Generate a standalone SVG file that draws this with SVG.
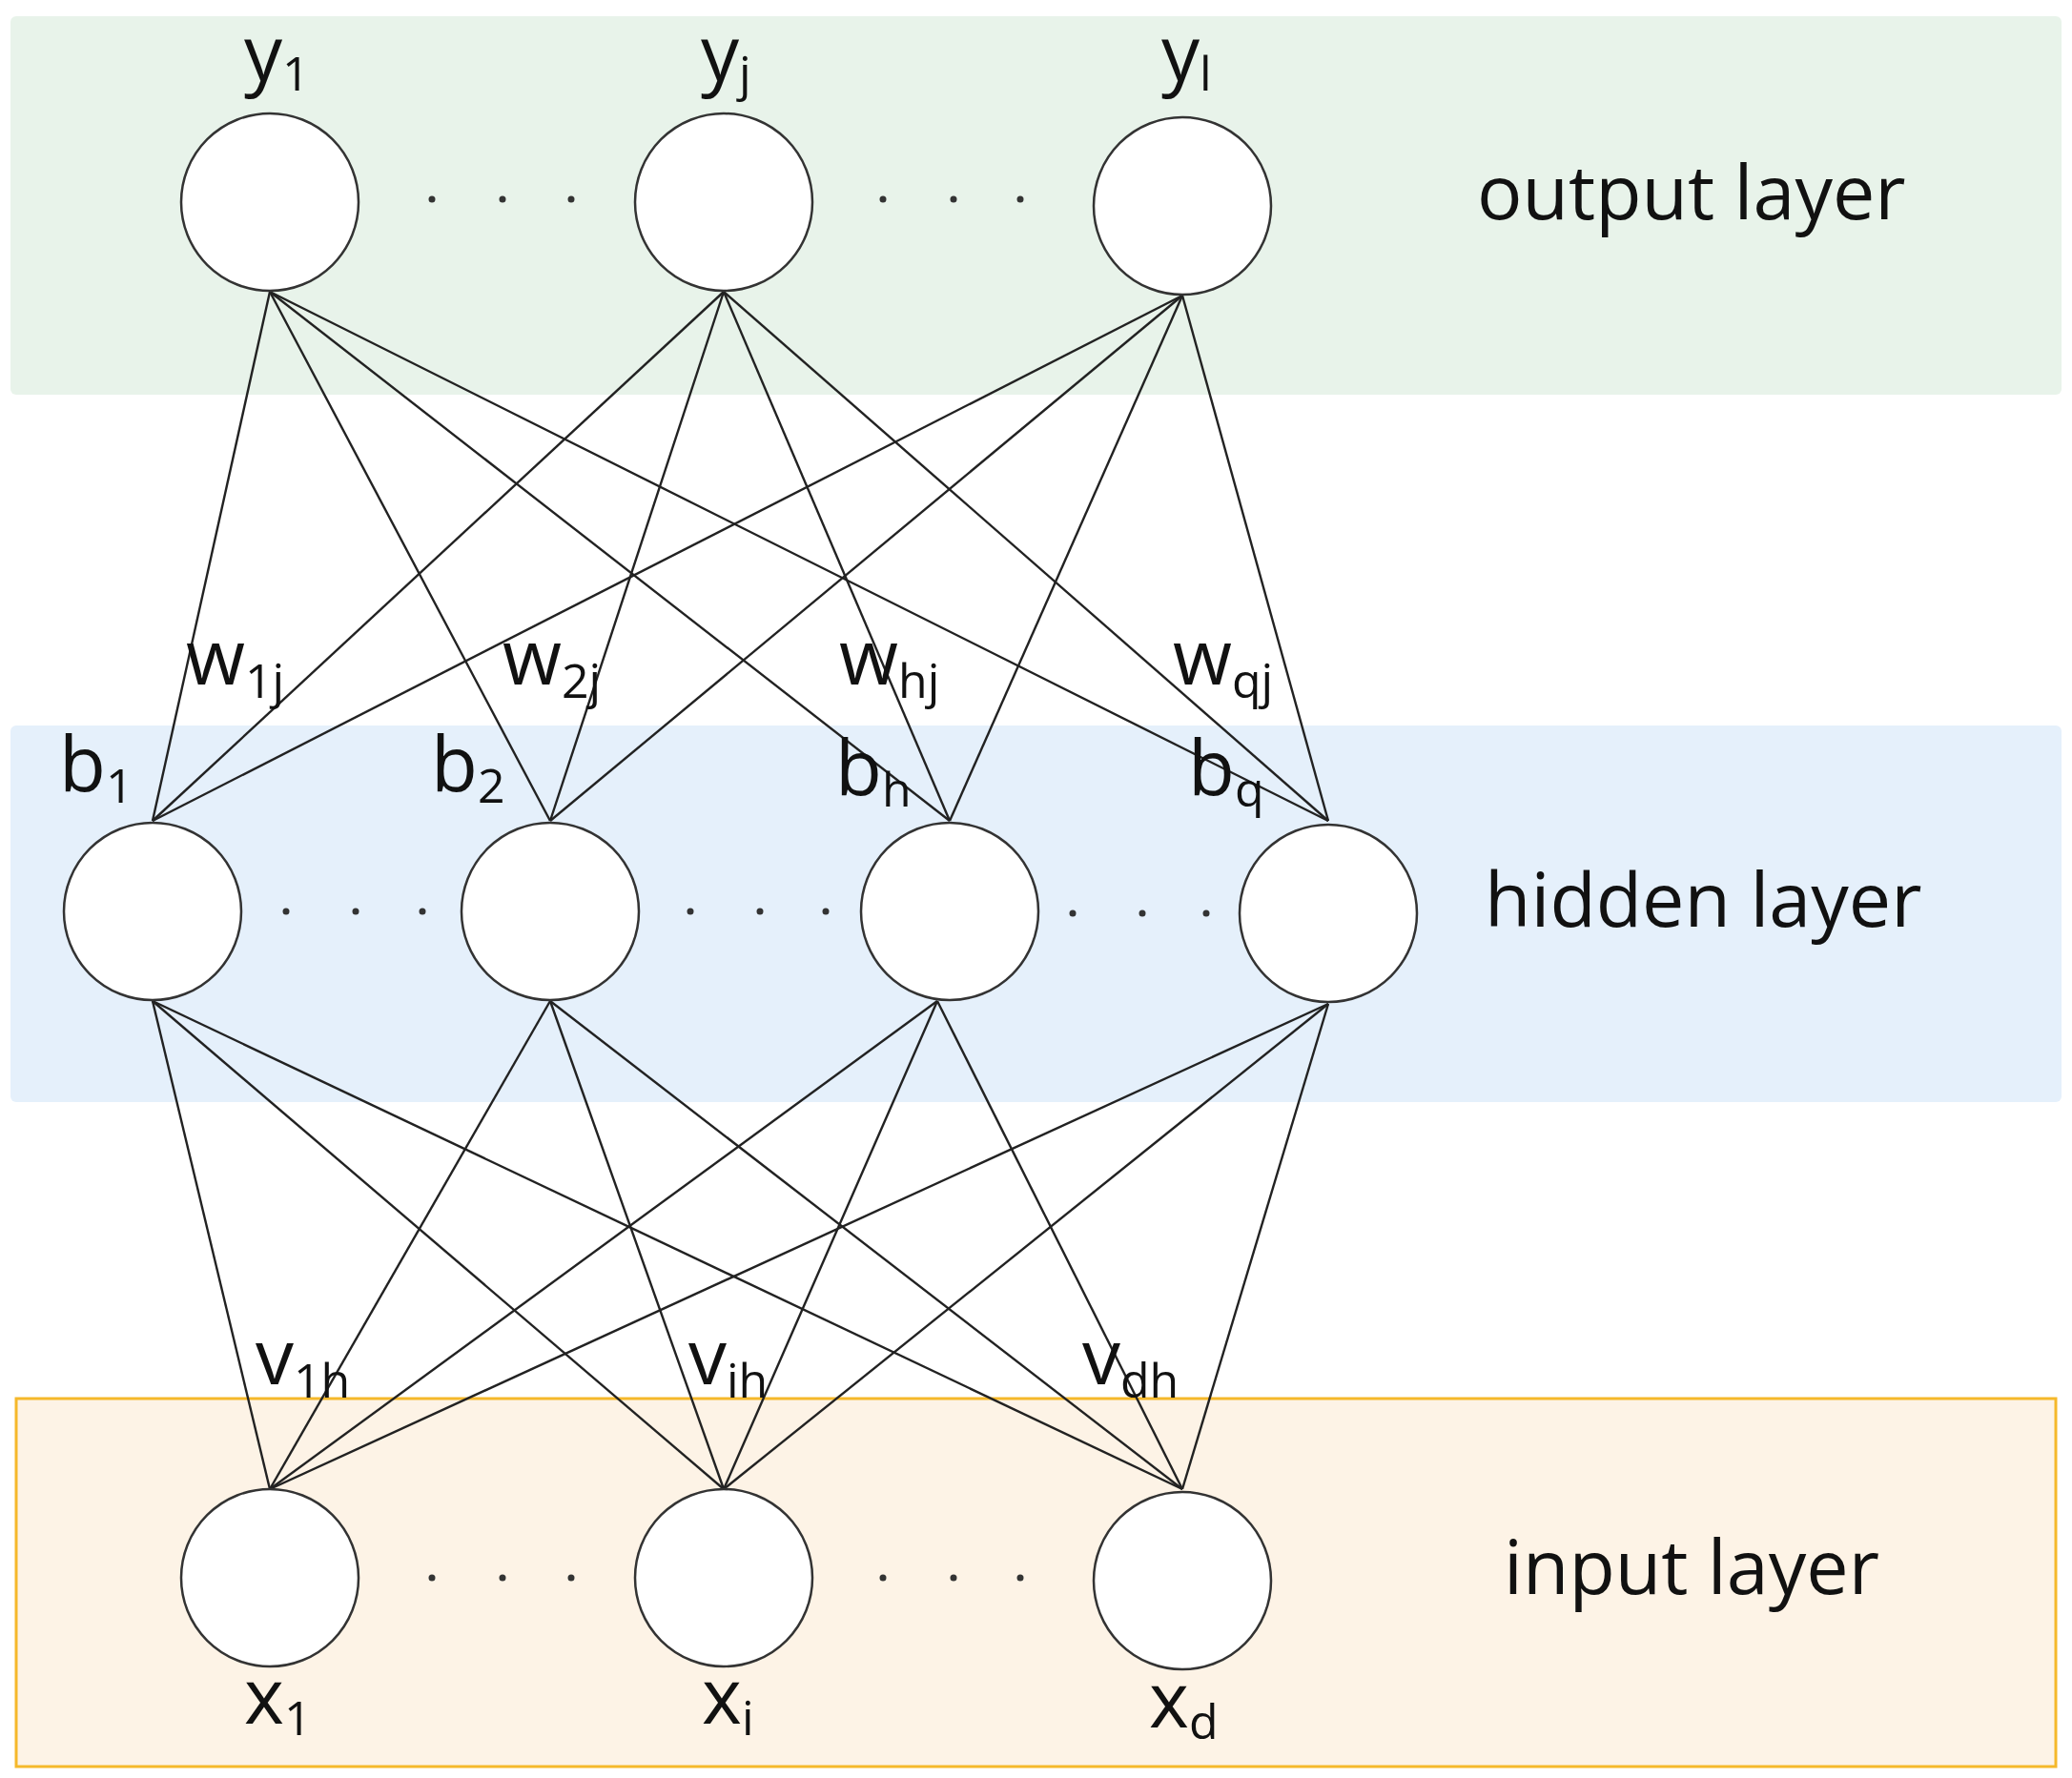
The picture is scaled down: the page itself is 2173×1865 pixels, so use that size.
<svg xmlns="http://www.w3.org/2000/svg" width="2173" height="1865" viewBox="0 0 2173 1865">
<style>
.n{fill:#fff;stroke:#333;stroke-width:2.5}
.c line{stroke:#222;stroke-width:2.4}
.t{font-family:"Open Sans","Noto Sans",sans-serif;fill:#111}
.v{font-size:80px}
.s{font-size:50px}
.L{font-size:79px}
.d{fill:#333}
</style>
<rect x="11" y="17" width="2151" height="397" rx="6" fill="#e8f3ea"/>
<rect x="11" y="761" width="2151" height="395" rx="6" fill="#e5f0fb"/>
<rect x="17" y="1467" width="2139" height="386" fill="#fdf3e6" stroke="#f5b82a" stroke-width="3"/>
<g class="c">
<line x1="283" y1="306" x2="160" y2="861"/><line x1="283" y1="306" x2="577" y2="861"/><line x1="283" y1="306" x2="996" y2="861"/><line x1="283" y1="306" x2="1393" y2="861"/>
<line x1="759" y1="306" x2="160" y2="861"/><line x1="759" y1="306" x2="577" y2="861"/><line x1="759" y1="306" x2="996" y2="861"/><line x1="759" y1="306" x2="1393" y2="861"/>
<line x1="1240" y1="310" x2="160" y2="861"/><line x1="1240" y1="310" x2="577" y2="861"/><line x1="1240" y1="310" x2="996" y2="861"/><line x1="1240" y1="310" x2="1393" y2="861"/>
<line x1="160" y1="1050" x2="283" y2="1562"/><line x1="160" y1="1050" x2="759" y2="1562"/><line x1="160" y1="1050" x2="1240" y2="1562"/>
<line x1="577" y1="1050" x2="283" y2="1562"/><line x1="577" y1="1050" x2="759" y2="1562"/><line x1="577" y1="1050" x2="1240" y2="1562"/>
<line x1="983" y1="1050" x2="283" y2="1562"/><line x1="983" y1="1050" x2="759" y2="1562"/><line x1="983" y1="1050" x2="1240" y2="1562"/>
<line x1="1393" y1="1053" x2="283" y2="1562"/><line x1="1393" y1="1053" x2="759" y2="1562"/><line x1="1393" y1="1053" x2="1240" y2="1562"/>
</g>
<g id="y1"><circle class="n" cx="283" cy="212" r="93"/></g>
<g id="yj"><circle class="n" cx="759" cy="212" r="93"/></g>
<g id="yl"><circle class="n" cx="1240" cy="216" r="93"/></g>
<g id="h1"><circle class="n" cx="160" cy="956" r="93"/></g>
<g id="h2"><circle class="n" cx="577" cy="956" r="93"/></g>
<g id="hh"><circle class="n" cx="996" cy="956" r="93"/></g>
<g id="hq"><circle class="n" cx="1393" cy="958" r="93"/></g>
<g id="x1"><circle class="n" cx="283" cy="1655" r="93"/></g>
<g id="xi"><circle class="n" cx="759" cy="1655" r="93"/></g>
<g id="xd"><circle class="n" cx="1240" cy="1658" r="93"/></g>
<g class="d">
<circle cx="453" cy="209" r="3.5"/><circle cx="527" cy="209" r="3.5"/><circle cx="599" cy="209" r="3.5"/>
<circle cx="926" cy="209" r="3.5"/><circle cx="1000" cy="209" r="3.5"/><circle cx="1070" cy="209" r="3.5"/>
<circle cx="300" cy="956" r="3.5"/><circle cx="373" cy="956" r="3.5"/><circle cx="443" cy="956" r="3.5"/>
<circle cx="724" cy="956" r="3.5"/><circle cx="797" cy="956" r="3.5"/><circle cx="866" cy="956" r="3.5"/>
<circle cx="1125" cy="958" r="3.5"/><circle cx="1198" cy="958" r="3.5"/><circle cx="1265" cy="958" r="3.5"/>
<circle cx="453" cy="1655" r="3.5"/><circle cx="527" cy="1655" r="3.5"/><circle cx="599" cy="1655" r="3.5"/>
<circle cx="926" cy="1655" r="3.5"/><circle cx="1000" cy="1655" r="3.5"/><circle cx="1070" cy="1655" r="3.5"/>
</g>
<g class="t">
<text class="v" x="256" y="85">y<tspan class="s" dy="10">1</tspan></text>
<text class="v" x="735" y="85">y<tspan class="s" dy="10">j</tspan></text>
<text class="v" x="1218" y="85">y<tspan class="s" dy="10">l</tspan></text>
<text class="v" x="195" y="718">w<tspan class="s" dy="14">1j</tspan></text>
<text class="v" x="527" y="718">w<tspan class="s" dy="14">2j</tspan></text>
<text class="v" x="880" y="718">w<tspan class="s" dy="14">hj</tspan></text>
<text class="v" x="1230" y="718">w<tspan class="s" dy="14">qj</tspan></text>
<text class="v" x="62" y="830">b<tspan class="s" dy="12">1</tspan></text>
<text class="v" x="452" y="830">b<tspan class="s" dy="12">2</tspan></text>
<text class="v" x="876" y="834">b<tspan class="s" dy="12">h</tspan></text>
<text class="v" x="1246" y="834">b<tspan class="s" dy="12">q</tspan></text>
<text class="v" x="268" y="1452">v<tspan class="s" dy="14">1h</tspan></text>
<text class="v" x="722" y="1452">v<tspan class="s" dy="14">ih</tspan></text>
<text class="v" x="1135" y="1452">v<tspan class="s" dy="14">dh</tspan></text>
<text class="v" x="256" y="1808">x<tspan class="s" dy="12">1</tspan></text>
<text class="v" x="736" y="1808">x<tspan class="s" dy="12">i</tspan></text>
<text class="v" x="1205" y="1812">x<tspan class="s" dy="12">d</tspan></text>
<text class="L" x="1549" y="230">output layer</text>
<text class="L" x="1557" y="972">hidden layer</text>
<text class="L" x="1577" y="1672">input layer</text>
</g>
</svg>
